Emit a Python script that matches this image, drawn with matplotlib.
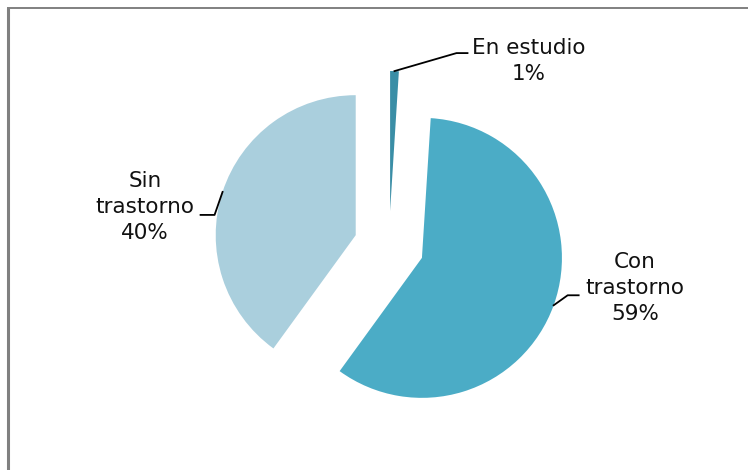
import numpy as np
import matplotlib
matplotlib.use("Agg")
import matplotlib.pyplot as plt

# slices, clockwise from 12 o'clock
categories = ["En estudio", "Con trastorno", "Sin trastorno"]
values = [1, 59, 40]
colors = ["#3A8EA6", "#4BACC6", "#AACFDD"]

W, H = 748, 470
fig = plt.figure(figsize=(W / 100, H / 100), dpi=100)
ax = fig.add_axes([0, 0, 1, 1])

R = 140
cx, cy = 389, H - 246
wedges, _ = ax.pie(values, colors=colors, startangle=90, counterclock=False,
                   radius=R, center=(cx, cy), explode=[35, 35, 35],
                   wedgeprops=dict(linewidth=0))
ax.set_xlim(0, W)
ax.set_ylim(0, H)
ax.set_aspect("auto")
ax.axis("off")

# chart frame (left + top only)
ax.plot([8, 8], [0, H - 8], color="#808080", lw=2.2, solid_capstyle="butt")
ax.plot([7, W], [H - 8, H - 8], color="#808080", lw=1.4, solid_capstyle="butt")

# label text position and elbow of the leader line (offset from the arc point)
label_pos = [(529, H - 61), (635, H - 288), (145, H - 207)]
elbows = [[(62, 18), (73, 18)], [(14, 10), (25, 10)], [(-8, -23), (-22, -23)]]

for w, cat, v, (tx, ty), elb in zip(wedges, categories, values, label_pos, elbows):
    mid = np.deg2rad((w.theta1 + w.theta2) / 2)
    x0 = w.center[0] + w.r * np.cos(mid)
    y0 = w.center[1] + w.r * np.sin(mid)
    xs = [x0] + [x0 + dx for dx, dy in elb]
    ys = [y0] + [y0 + dy for dx, dy in elb]
    ax.plot(xs, ys, color="black", lw=1.3)
    txt = cat.replace(" ", "\n") if cat != "En estudio" else cat
    ax.text(tx, ty, f"{txt}\n{v}%", ha="center", va="center", fontsize=15.5,
            family="DejaVu Sans", linespacing=1.4, color="#111111")

fig.savefig("out.png", dpi=100, facecolor="white")
